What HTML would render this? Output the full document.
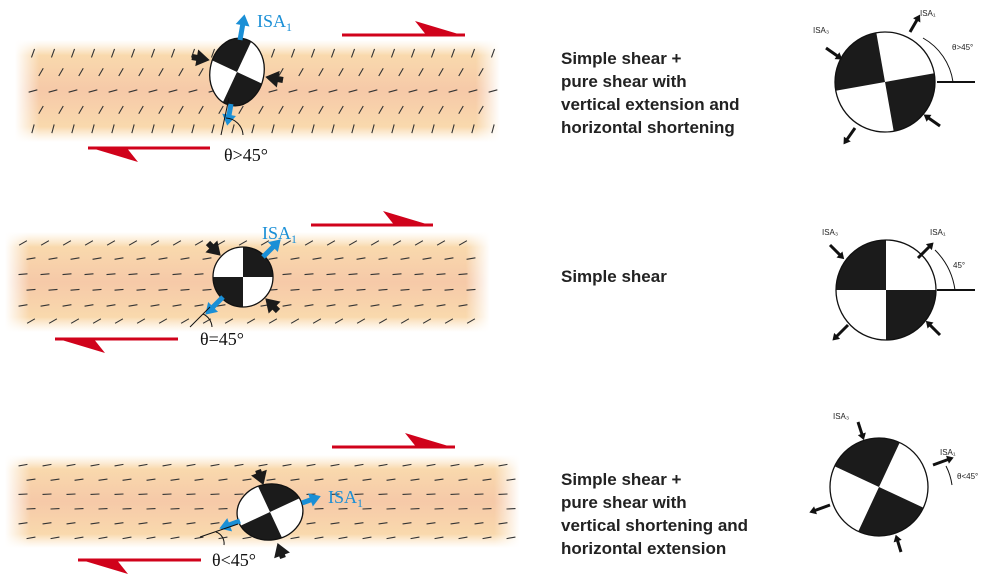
<!DOCTYPE html>
<html><head><meta charset="utf-8"><style>
html,body{margin:0;background:#fff;width:987px;height:577px;overflow:hidden;}
svg{display:block;}
.lbl{font-family:"Liberation Sans",sans-serif;font-weight:bold;font-size:17px;fill:#222;}
.ser{font-family:"Liberation Serif",serif;font-size:18px;}
.sm{font-family:"Liberation Sans",sans-serif;font-size:8px;fill:#222;}
</style></head><body>
<svg id="s" width="987" height="577" viewBox="0 0 987 577" overflow="hidden">
<defs id="defs">
<linearGradient id="gv" x1="0" y1="0" x2="0" y2="1">
<stop offset="0" stop-color="#fbe3c0" stop-opacity="0"/>
<stop offset="0.15" stop-color="#f9d9ad"/>
<stop offset="0.5" stop-color="#f6c9a8"/>
<stop offset="0.85" stop-color="#f9d9ad"/>
<stop offset="1" stop-color="#fbe3c0" stop-opacity="0"/>
</linearGradient>
<linearGradient id="gh" x1="0" y1="0" x2="1" y2="0">
<stop offset="0" stop-color="#fff" stop-opacity="1"/>
<stop offset="0.05" stop-color="#fff" stop-opacity="0"/>
<stop offset="0.95" stop-color="#fff" stop-opacity="0"/>
<stop offset="1" stop-color="#fff" stop-opacity="1"/>
</linearGradient>
</defs>
<g id="bands"></g>
<g id="fg"></g>
<text class="lbl" x="561" y="64">Simple shear +</text>
<text class="lbl" x="561" y="87">pure shear with</text>
<text class="lbl" x="561" y="110">vertical extension and</text>
<text class="lbl" x="561" y="133">horizontal shortening</text>
<text class="lbl" x="561" y="282">Simple shear</text>
<text class="lbl" x="561" y="485">Simple shear +</text>
<text class="lbl" x="561" y="508">pure shear with</text>
<text class="lbl" x="561" y="531">vertical shortening and</text>
<text class="lbl" x="561" y="554">horizontal extension</text>
<text class="ser" x="224" y="161" fill="#111">θ&gt;45°</text>
<text class="ser" x="200" y="345" fill="#111">θ=45°</text>
<text class="ser" x="212" y="566" fill="#111">θ&lt;45°</text>
<text class="ser" x="257" y="27" fill="#1a8fd6">ISA<tspan font-size="12" dy="4">1</tspan></text>
<text class="ser" x="262" y="239" fill="#1a8fd6">ISA<tspan font-size="12" dy="4">1</tspan></text>
<text class="ser" x="328" y="503" fill="#1a8fd6">ISA<tspan font-size="12" dy="4">1</tspan></text>
<text class="sm" x="813" y="33">ISA₃</text>
<text class="sm" x="920" y="16">ISA₁</text>
<text class="sm" x="952" y="50">θ&gt;45°</text>
<text class="sm" x="822" y="235" font-size="9">ISA₃</text>
<text class="sm" x="930" y="235" font-size="9">ISA₁</text>
<text class="sm" x="953" y="268" font-size="9">45°</text>
<text class="sm" x="833" y="419">ISA₃</text>
<text class="sm" x="940" y="455">ISA₁</text>
<text class="sm" x="957" y="479">θ&lt;45°</text>
</svg>
<script>
const NS="http://www.w3.org/2000/svg";
function mk(p,t,a){const e=document.createElementNS(NS,t);for(const k in a)e.setAttribute(k,a[k]);p.appendChild(e);return e;}
const B=document.getElementById('bands'),F=document.getElementById('fg'),D=document.getElementById('defs');
const bands=[[15,500,40,142,[70,60,15,60,75],20],[5,490,232,332,[30,10,5,5,10,30],22],[5,520,455,548,[10,8,3,3,8,10],24]];
bands.forEach((b,i)=>{
 const g=mk(B,'g',{});
 
 
 mk(g,'rect',{x:b[0],y:b[2],width:b[1]-b[0],height:b[3]-b[2],fill:'url(#gv)'});
 mk(g,'rect',{x:b[0],y:b[2],width:b[1]-b[0],height:b[3]-b[2],fill:'url(#gh)'});
 const n=b[4].length;
 b[4].forEach((ang,r)=>{
  const y=b[2]+(b[3]-b[2])*(r+0.7)/(n+0.4);
  for(let x=b[0]+18+(r%2)*8;x<b[1]-5;x+=b[5]){
   const a=-ang*Math.PI/180,L=4.5;
   mk(g,'line',{x1:x-L*Math.cos(a),y1:y-L*Math.sin(a),x2:x+L*Math.cos(a),y2:y+L*Math.sin(a),stroke:'#333','stroke-width':1.1});
  }
 });
});
function red(x1,x2,y,dir,name){
 const g=mk(F,'g',{});
 mk(g,'rect',{x:Math.min(x1,x2),y:y-1.5,width:Math.abs(x2-x1),height:3,fill:'#d0021b'});
 if(dir>0)mk(g,'path',{d:`M${x2-50} ${y-14} L${x2} ${y+1} L${x2-38} ${y+1}Z`,fill:'#d0021b'});
 else mk(g,'path',{d:`M${x1+50} ${y+14} L${x1} ${y-1} L${x1+38} ${y-1}Z`,fill:'#d0021b'});
}
red(342,465,35,1,'top-shear-arrow-1');red(88,210,148,-1,'bottom-shear-arrow-1');
red(311,433,225,1,'top-shear-arrow-2');red(55,178,339,-1,'bottom-shear-arrow-2');
red(332,455,447,1,'top-shear-arrow-3');red(78,201,560,-1,'bottom-shear-arrow-3');
let cid=0;
function ball(cx,cy,rx,ry,erot,qrot,name){
 const id='cl'+(cid++);
 const cp=mk(D,'clipPath',{id:id});
 mk(cp,'ellipse',{cx:0,cy:0,rx:rx,ry:ry,transform:`rotate(${erot})`});
 const g=mk(F,'g',{transform:`translate(${cx} ${cy})`});
 
 mk(g,'ellipse',{cx:0,cy:0,rx:rx,ry:ry,fill:'#fff',transform:`rotate(${erot})`});
 const q=mk(g,'g',{'clip-path':`url(#${id})`});
 const R=60;
 mk(q,'path',{d:`M0 0 L${-R} 0 L${-R} ${-R} L0 ${-R}Z M0 0 L${R} 0 L${R} ${R} L0 ${R}Z`,fill:'#1b1b1b',transform:`rotate(${qrot})`});
 mk(g,'ellipse',{cx:0,cy:0,rx:rx,ry:ry,fill:'none',stroke:'#111','stroke-width':1.3,transform:`rotate(${erot})`});
}
function arr(x,y,ang,len,col,w,name){
 const g=mk(F,'g',{transform:`translate(${x} ${y}) rotate(${ang})`});
 
 mk(g,'rect',{x:0,y:-w/2,width:len-w*1.5,height:w,fill:col});
 mk(g,'path',{d:`M${len} 0 L${len-w*2.2} ${-w*1.4} L${len-w*2.2} ${w*1.4}Z`,fill:col});
}
ball(237,72,27,34,10,25,'strain-ellipse-1');
arr(240,40,-80,26,'#1a8fd6',5,'isa1-arrow-1-up');arr(231,104,100,22,'#1a8fd6',5,'isa1-arrow-1-down');
arr(192,57,10,18,'#1b1b1b',6,'ISA3-arrow-1-left');arr(283,80,190,18,'#1b1b1b',6,'ISA3-arrow-1-right');
mk(F,'line',{x1:221,y1:135,x2:229,y2:98,stroke:'#111','stroke-width':1});
mk(F,'path',{d:'M226 118 A18 18 0 0 1 243 135',fill:'none',stroke:'#111','stroke-width':1});
ball(243,277,30,30,0,90,'strain-ellipse-2');
arr(263,257,-45,25,'#1a8fd6',5,'isa1-arrow-2-up');arr(223,297,135,25,'#1a8fd6',5,'isa1-arrow-2-down');
arr(208,243,45,18,'#1b1b1b',6,'ISA3-arrow-2-left');arr(278,311,225,18,'#1b1b1b',6,'ISA3-arrow-2-right');
mk(F,'line',{x1:190,y1:327,x2:210,y2:307,stroke:'#111','stroke-width':1});
mk(F,'path',{d:'M203 314 A15 15 0 0 1 212 327',fill:'none',stroke:'#111','stroke-width':1});
ball(270,512,33,28,-8,65,'strain-ellipse-3');
arr(302,503,-20,20,'#1a8fd6',5,'isa1-arrow-3-right');arr(240,521,160,22,'#1a8fd6',5,'isa1-arrow-3-left');
arr(258,470,70,16,'#1b1b1b',6,'ISA3-arrow-3-top');arr(283,558,250,16,'#1b1b1b',6,'ISA3-arrow-3-bottom');
mk(F,'line',{x1:200,y1:537,x2:238,y2:524,stroke:'#111','stroke-width':1});
mk(F,'path',{d:'M216 532 A12 12 0 0 1 224 545',fill:'none',stroke:'#111','stroke-width':1});
ball(885,82,50,50,0,-10,'stereo-diagram-1');
mk(F,'line',{x1:937,y1:82,x2:975,y2:82,stroke:'#111','stroke-width':2});
mk(F,'path',{d:'M953 82 A60 60 0 0 0 923 38',fill:'none',stroke:'#111','stroke-width':1});
arr(910,32,-60,20,'#111',3,'s1-isa1');arr(826,48,35,20,'#111',3,'s1-isa3-in');
arr(940,126,215,20,'#111',3,'s1-isa3-in2');arr(855,128,125,20,'#111',3,'s1-isa1-out');
ball(886,290,50,50,0,0,'stereo-diagram-2');
mk(F,'line',{x1:937,y1:290,x2:975,y2:290,stroke:'#111','stroke-width':2});
mk(F,'path',{d:'M955 290 A70 70 0 0 0 935 250',fill:'none',stroke:'#111','stroke-width':1});
arr(918,258,-45,22,'#111',3,'s2-isa1');arr(830,245,45,20,'#111',3,'s2-isa3-in');
arr(940,335,225,20,'#111',3,'s2-isa3-in2');arr(848,325,135,22,'#111',3,'s2-isa1-out');
ball(879,487,49,49,0,25,'stereo-diagram-3');
mk(F,'path',{d:'M952 485 A60 60 0 0 0 946 466',fill:'none',stroke:'#111','stroke-width':1});
arr(933,465,-20,22,'#111',3,'s3-isa1');arr(858,422,72,19,'#111',3,'s3-isa3-in');
arr(901,552,253,18,'#111',3,'s3-isa3-in2');arr(830,505,160,22,'#111',3,'s3-isa1-out');
</script>
</body></html>
